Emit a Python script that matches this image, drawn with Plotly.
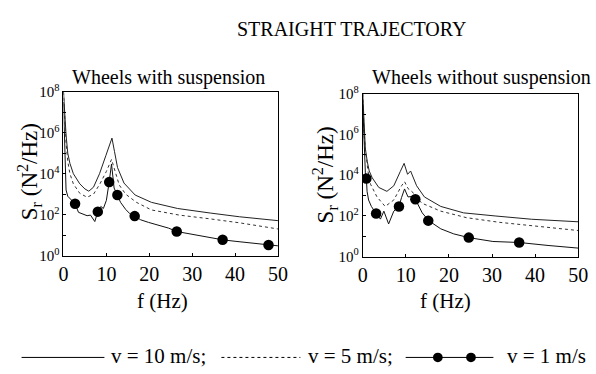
import plotly.graph_objects as go

# ---------------- data: wheels WITH suspension ----------------
ws_f10 = [0, 0.3, 0.6, 1.0, 1.5, 2.3, 3.8, 5.0, 5.9, 7.0, 8.4, 9.9, 10.7, 11.3, 11.9, 12.6, 14.1, 16.7, 20.5, 26.6, 34.2, 41, 50]
ws_s10 = [1e8, 6.3e6, 7.9e5, 1e5, 3.2e4, 1e4, 3.2e3, 1.8e3, 1.4e3, 2.2e3, 1e4, 7.9e4, 2.2e5, 5.5e5, 1.2e5, 2e4, 3.5e3, 9.1e2, 4e2, 2e2, 1.2e2, 79, 51]

ws_f5 = [0, 0.3, 0.6, 1.0, 1.5, 2.3, 3.8, 5.5, 7.0, 8.5, 10.0, 11.2, 12.0, 13.0, 14.5, 17, 20.5, 27, 34, 41, 50]
ws_s5 = [1e8, 3.2e6, 3.2e5, 4e4, 1e4, 3.2e3, 1.1e3, 7.1e2, 1e3, 3.2e3, 1.3e4, 5e4, 1.3e4, 2.8e3, 1e3, 4e2, 1.7e2, 95, 63, 40, 20]

ws_f1 = [0, 0.3, 0.6, 1.0, 1.8, 2.7, 3.5, 4.5, 5.5, 6.3, 7.3, 8.0, 8.7, 9.3, 10.0, 10.65, 11.2, 11.8, 12.56, 13.3, 14.5, 15.5, 16.6, 18, 19.8, 22.8, 24.5, 26.4, 28, 30.4, 32, 34.2, 37.1, 40, 43, 47.8, 50]
ws_s1 = [3.2e7, 3.2e4, 1.6e3, 7.9e2, 5e2, 3.4e2, 1.3e2, 1.1e2, 89, 95, 46, 1.4e2, 2.5e2, 2e2, 5e2, 3.9e3, 3e4, 2e3, 9.1e2, 4e2, 1.8e2, 1.1e2, 85, 56, 42, 27, 22, 15, 13, 10, 8.9, 7.2, 5.9, 5, 4.3, 3.3, 3.0]
ws_mf = [2.7, 8.0, 10.65, 12.56, 16.6, 26.4, 37.1, 47.8]
ws_ms = [340, 140, 3900, 910, 85, 15, 5.9, 3.3]

# ---------------- data: wheels WITHOUT suspension ----------------
wo_f10 = [0, 0.3, 0.6, 1.05, 1.5, 2.2, 3.7, 5.6, 7.2, 8.7, 9.6, 10.4, 11.1, 12.5, 14.3, 18.1, 23.4, 30.9, 39.2, 50]
wo_s10 = [1e8, 1.6e6, 2e5, 4.6e4, 1.6e4, 7.4e3, 2.5e3, 1.6e3, 3e3, 1.5e4, 3.8e4, 1.1e4, 1.6e4, 3e3, 8.5e2, 2.9e2, 1.4e2, 98, 68, 51]

wo_f5 = [0, 0.3, 0.7, 1.2, 1.8, 3.3, 5.2, 7.2, 9.0, 9.7, 10.5, 11.4, 12.5, 13.7, 18.1, 24.1, 31.7, 39.2, 50]
wo_s5 = [1e8, 1e6, 1.3e5, 1.6e4, 3.6e3, 8.5e2, 2.9e2, 6e2, 3e3, 4.8e3, 2.2e3, 1.6e3, 7.9e2, 4.2e2, 1.7e2, 81, 48, 33, 19]

wo_f1 = [0, 0.3, 0.6, 0.83, 1.0, 1.35, 2.0, 3.1, 4.1, 4.9, 6.0, 7.2, 8.4, 9.0, 9.7, 10.5, 11.3, 12.2, 13.8, 15.3, 18.1, 21.1, 24.6, 30.2, 36.3, 43, 50]
wo_s1 = [3.2e7, 1.6e5, 1.3e4, 6.8e3, 1.6e3, 6e2, 2.9e2, 1.3e2, 69, 1.7e2, 40, 1.7e2, 2.9e2, 7.9e2, 2.1e3, 8.5e2, 8.9e2, 6.5e2, 1.4e2, 58, 23, 13, 8.5, 5.5, 4.9, 3.5, 2.6]
wo_mf = [0.83, 3.1, 8.4, 12.2, 15.2, 24.6, 36.3]
wo_ms = [6800, 130, 290, 650, 58, 8.5, 4.9]

x_ticks = [0, 10, 20, 30, 40, 50]
y_tickvals = [1, 10, 1e2, 1e3, 1e4, 1e5, 1e6, 1e7, 1e8]
y_ticktext = ["10<sup>0</sup>", "", "10<sup>2</sup>", "", "10<sup>4</sup>", "", "10<sup>6</sup>", "", "10<sup>8</sup>"]

FONT = "Liberation Serif"
W, H = 596, 374

fig = go.Figure()

def add_panel(xa, ya, f10, s10, f5, s5, f1, s1, mf, ms):
    fig.add_trace(go.Scatter(x=f10, y=s10, mode="lines", line=dict(color="#222", width=1),
                             xaxis=xa, yaxis=ya, showlegend=False))
    fig.add_trace(go.Scatter(x=f5, y=s5, mode="lines", line=dict(color="#333", width=1, dash="dot"),
                             xaxis=xa, yaxis=ya, showlegend=False))
    fig.add_trace(go.Scatter(x=f1, y=s1, mode="lines", line=dict(color="#111", width=1),
                             xaxis=xa, yaxis=ya, showlegend=False))
    fig.add_trace(go.Scatter(x=mf, y=ms, mode="markers", marker=dict(color="black", size=10.5),
                             xaxis=xa, yaxis=ya, showlegend=False))

add_panel("x", "y", ws_f10, ws_s10, ws_f5, ws_s5, ws_f1, ws_s1, ws_mf, ws_ms)
add_panel("x2", "y2", wo_f10, wo_s10, wo_f5, wo_s5, wo_f1, wo_s1, wo_mf, wo_ms)

def px_x(p):
    return p / W

def px_y(p):
    return (H - p) / H

xcommon = dict(range=[0, 50], tickvals=x_ticks, ticks="inside", ticklen=3, tickcolor="black",
               showline=True, linecolor="black", linewidth=1, mirror=True, showgrid=False,
               zeroline=False, tickfont=dict(family=FONT, size=20, color="black"))
ycommon = dict(type="log", range=[0, 8], tickvals=y_tickvals, ticktext=y_ticktext, ticks="inside",
               ticklen=3, tickcolor="black", showline=True, linecolor="black", linewidth=1,
               mirror=True, showgrid=False, zeroline=False,
               tickfont=dict(family=FONT, size=15, color="black"))

fig.update_layout(
    width=W, height=H, margin=dict(l=0, r=0, t=0, b=0),
    paper_bgcolor="white", plot_bgcolor="white", showlegend=False,
    font=dict(family=FONT, color="black"),
    xaxis=dict(domain=[px_x(60), px_x(280)], anchor="y", **xcommon),
    yaxis=dict(domain=[px_y(258), px_y(86)], anchor="x", **ycommon),
    xaxis2=dict(domain=[px_x(367), px_x(588)], anchor="y2", **xcommon),
    yaxis2=dict(domain=[px_y(259), px_y(88)], anchor="x2", **ycommon),
)

ann = []
def txt(text, x, y, size, xanchor="center", angle=0):
    ann.append(dict(text=text, x=px_x(x), y=px_y(y), xref="paper", yref="paper",
                    xanchor=xanchor, yanchor="middle", showarrow=False, textangle=angle,
                    font=dict(family=FONT, size=size, color="black")))

txt("STRAIGHT TRAJECTORY", 355, 20, 20)
txt("Wheels with suspension", 168, 71, 20)
txt("Wheels without suspension", 489, 71, 20)
txt("f (Hz)", 162, 306, 21)
txt("f (Hz)", 452, 306, 21)
txt("S<sub>r</sub> (N<sup>2</sup>/Hz)", 25, 170, 23, angle=-90)
txt("S<sub>r</sub> (N<sup>2</sup>/Hz)", 328, 173, 23, angle=-90)

# legend (drawn manually to mimic the original caption)
LY = 365
txt("v = 10 m/s;", 107, LY - 1, 21, xanchor="left")
txt("v = 5 m/s;", 309, LY - 1, 21, xanchor="left")
txt("v = 1 m/s", 513, LY - 1, 21, xanchor="left")
fig.update_layout(annotations=ann)

shapes = [
    dict(type="line", xref="paper", yref="paper", x0=px_x(17), x1=px_x(102), y0=px_y(LY), y1=px_y(LY),
         line=dict(color="black", width=1)),
    dict(type="line", xref="paper", yref="paper", x0=px_x(222), x1=px_x(303), y0=px_y(LY), y1=px_y(LY),
         line=dict(color="black", width=1, dash="dot")),
    dict(type="line", xref="paper", yref="paper", x0=px_x(411), x1=px_x(501), y0=px_y(LY), y1=px_y(LY),
         line=dict(color="black", width=1)),
]
for cx in (444, 478):
    shapes.append(dict(type="circle", xref="paper", yref="paper", x0=px_x(cx - 5), x1=px_x(cx + 5),
                       y0=px_y(LY + 5), y1=px_y(LY - 5), fillcolor="black", line=dict(color="black", width=0)))
fig.update_layout(shapes=shapes)

fig.write_html("out.html")
